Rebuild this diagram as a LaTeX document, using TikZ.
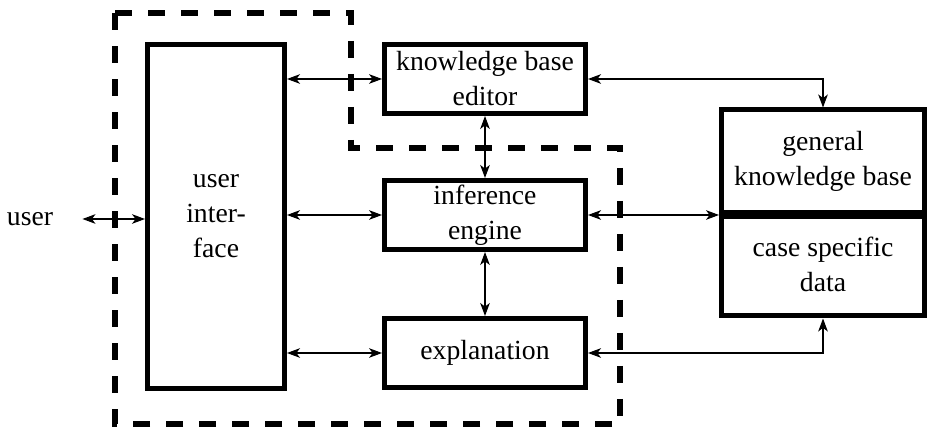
\documentclass[tikz,border=0pt]{standalone}
\usepackage{fontspec}
\setmainfont{Liberation Serif}
\usetikzlibrary{arrows.meta}
\tikzset{
  blk/.style={draw, line width=2.5pt, align=center, inner sep=0pt,
    font=\fontsize{13.85pt}{17.5pt}\selectfont},
  lbl/.style={align=center, inner sep=0pt,
    font=\fontsize{13.85pt}{17.5pt}\selectfont},
  arr/.style={line width=0.55pt,
    {Stealth[length=6.5pt,width=4.8pt,inset=1.8pt]}-{Stealth[length=6.5pt,width=4.8pt,inset=1.8pt]}},
  region/.style={line width=3pt, dash pattern=on 8.5pt off 8pt}
}
\begin{document}
\begin{tikzpicture}[x=0.5pt,y=-0.5pt]
  \useasboundingbox (0,0) rectangle (929,431);

  % boxes
  \node[lbl] (user) at (30,219) {user};
  \node[blk, minimum width=68.5pt, minimum height=172pt] (ui) at (216,216.5)
    {user\\inter-\\face};
  \node[blk, minimum width=100.5pt, minimum height=34.5pt] (kbe) at (485,79)
    {knowledge base\\editor};
  \node[blk, minimum width=100.5pt, minimum height=34.5pt] (ie) at (485,215)
    {inference\\engine};
  \node[blk, minimum width=100.5pt, minimum height=34.5pt] (ex) at (485,353)
    {explanation};
  \node[blk, minimum width=101.5pt, minimum height=51.5pt] (gkb) at (823,161.5)
    {general\\knowledge base};
  \node[blk, minimum width=101.5pt, minimum height=51.5pt] (csd) at (823,264.5)
    {case specific\\data};
  \draw[line width=4pt] (gkb.south west) -- (gkb.south east);

  % dashed boundary of the system
  \draw[region] (115,13) -- (351,13) -- (351,148) -- (620,148)
    -- (620,424) -- (115,424) -- cycle;

  % connectors
  \draw[arr] ([xshift=14.5pt]user.east) -- (ui.west |- user);
  \draw[arr] (ui.east |- kbe.west) -- (kbe.west);
  \draw[arr] (ui.east |- ie.west) -- (ie.west);
  \draw[arr] (ui.east |- ex.west) -- (ex.west);
  \draw[arr] (kbe.south) -- (ie.north);
  \draw[arr] (ie.south) -- (ex.north);
  \draw[arr] (kbe.east) -| (gkb.north);
  \draw[arr] (ie.east) -- (ie.east -| gkb.west);
  \draw[arr] (ex.east) -| (csd.south);
\end{tikzpicture}
\end{document}
